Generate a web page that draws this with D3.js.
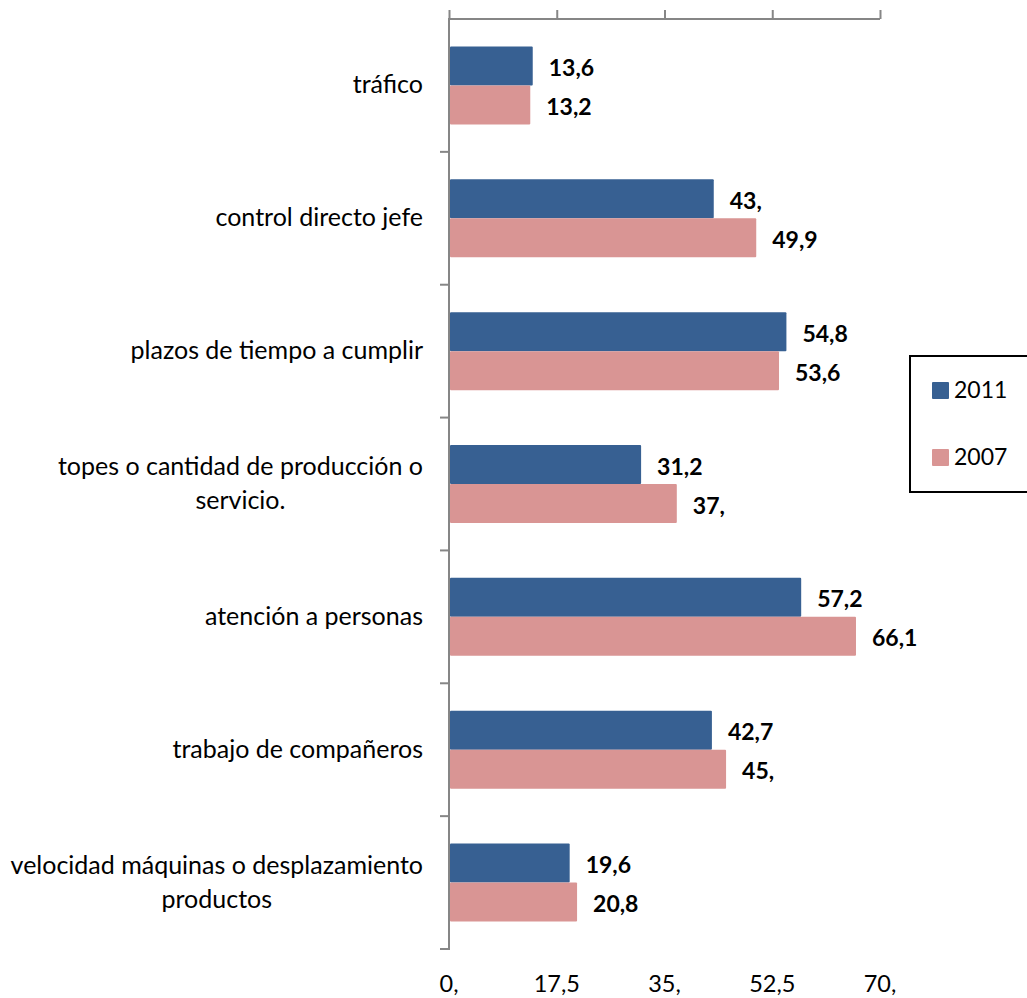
<!DOCTYPE html>
<html>
<head>
<meta charset="utf-8">
<script src="https://cdn.jsdelivr.net/npm/d3@7"></script>
<style>
  html, body { margin: 0; padding: 0; background: #fff; }
  svg { display: block; }
  text { font-family: Lato, "Open Sans", sans-serif; fill: #000; }
</style>
</head>
<body>
<svg id="chart" width="1027" height="998"></svg>
<script>
// Categories, top to bottom (multi-line labels split on "\n")
const categories = [
  "tráfico",
  "control directo jefe",
  "plazos de tiempo a cumplir",
  "topes o cantidad de producción o\nservicio.",
  "atención a personas",
  "trabajo de compañeros",
  "velocidad máquinas o desplazamiento\nproductos"
];
const seriesNames = ["2011", "2007"];
const values2011 = [13.6, 43, 54.8, 31.2, 57.2, 42.7, 19.6];
const values2007 = [13.2, 49.9, 53.6, 37, 66.1, 45, 20.8];
const tickValues = [0, 17.5, 35, 52.5, 70];
const colors = ["#376092", "#d99594"];

// Spanish-style number format: comma decimal, integers keep a trailing comma
const fmt = v => Number.isInteger(v) ? v + "," : String(v).replace(".", ",");

const svg = d3.select("#chart");
const plotLeft = 449, plotRight = 880, plotTop = 19, plotBottom = 949;

const x = d3.scaleLinear().domain([0, 70]).range([plotLeft, plotRight]);
const y = d3.scaleBand().domain(categories).range([plotTop, plotBottom]);
const barH = 39;
const groupPad = (y.bandwidth() - 2 * barH) / 2;

const series = [values2011, values2007];

// bars
series.forEach((vals, si) => {
  svg.append("g").selectAll("rect")
    .data(categories.map((c, i) => ({ c, v: vals[i] })))
    .join("rect")
    .attr("x", x(0) + 1)
    .attr("y", d => y(d.c) + groupPad + si * barH)
    .attr("width", d => x(d.v) - x(0) - 1)
    .attr("height", barH)
    .attr("rx", 1)
    .attr("fill", colors[si]);

  // value labels
  svg.append("g").selectAll("text")
    .data(categories.map((c, i) => ({ c, v: vals[i] })))
    .join("text")
    .attr("x", d => x(d.v) + 16)
    .attr("y", d => y(d.c) + groupPad + si * barH + barH / 2 + 10)
    .attr("font-size", 23)
    .attr("font-weight", "bold")
    .text(d => fmt(d.v));
});

// top axis with tick marks
const axisTop = d3.axisTop(x).tickValues(tickValues).tickSize(9).tickFormat("");
const gTop = svg.append("g").attr("transform", `translate(0,${plotTop})`).call(axisTop);
gTop.select(".domain").attr("stroke", "#868686").attr("stroke-width", 2)
  .attr("d", `M${plotLeft},0H${plotRight}`);
gTop.selectAll(".tick line").attr("stroke", "#868686").attr("stroke-width", 2);

// left axis: ticks at category boundaries
const boundaries = categories.map(c => y(c) + y.bandwidth());
const gLeft = svg.append("g");
gLeft.append("line")
  .attr("x1", plotLeft).attr("x2", plotLeft).attr("y1", plotTop - 1).attr("y2", plotBottom + 1)
  .attr("stroke", "#868686").attr("stroke-width", 2);
gLeft.selectAll("line.tk").data(boundaries).join("line")
  .attr("class", "tk")
  .attr("x1", plotLeft - 9).attr("x2", plotLeft).attr("y1", d => d).attr("y2", d => d)
  .attr("stroke", "#868686").attr("stroke-width", 2);

// tick labels below the plot
svg.append("g").selectAll("text").data(tickValues).join("text")
  .attr("x", d => x(d))
  .attr("y", 992)
  .attr("text-anchor", "middle")
  .attr("font-size", 23.5)
  .text(d => fmt(d));

// category labels: right-aligned block, wrapped lines centered within it
const labelRight = 423;
const lineGap = 34;
categories.forEach(c => {
  const lines = c.split("\n");
  const cy = y(c) + y.bandwidth() / 2;
  const g = svg.append("g");
  const texts = lines.map((ln, i) => g.append("text")
    .attr("font-size", 25)
    .attr("y", cy + (i - (lines.length - 1) / 2) * lineGap + 8)
    .text(ln));
  const widths = texts.map(t => t.node().getComputedTextLength());
  const maxW = Math.max(...widths);
  const centre = labelRight - maxW / 2;
  texts.forEach(t => t.attr("x", centre).attr("text-anchor", "middle"));
});

// legend
const lg = svg.append("g");
lg.append("rect")
  .attr("x", 910).attr("y", 356).attr("width", 140).attr("height", 136)
  .attr("fill", "#fff").attr("stroke", "#000").attr("stroke-width", 2);
seriesNames.forEach((name, i) => {
  const yy = 382 + i * 67;
  lg.append("rect").attr("x", 932).attr("y", yy).attr("width", 17).attr("height", 17)
    .attr("rx", 1).attr("fill", colors[i]);
  lg.append("text").attr("x", 954).attr("y", yy + 16).attr("font-size", 23).text(name);
});
</script>
</body>
</html>
